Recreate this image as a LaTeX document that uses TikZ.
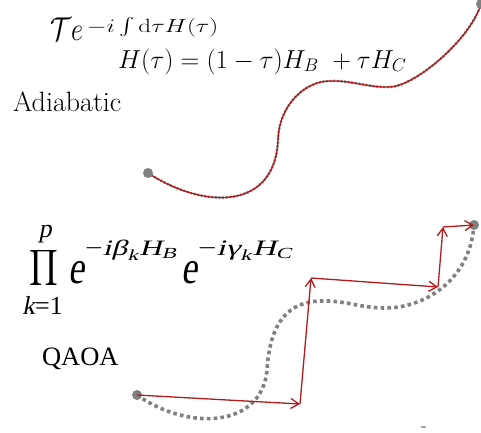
\RequirePackage{fix-cm}
\documentclass[tikz,border=0pt]{standalone}
\usepackage{amsmath}
\usepackage{fontspec}
\usepackage{graphicx}
\usetikzlibrary{arrows.meta}
\newfontfamily\tnr{Liberation Serif}
\newfontfamily\tnri{Liberation Serif}[FakeSlant=0.2]
\newcommand\ti[1]{\text{\tnri #1}}
\newcommand\tr[1]{\text{\tnr #1}}
\definecolor{pathred}{RGB}{178,26,30}
\definecolor{dotgray}{RGB}{128,128,128}
\tikzset{
  lbl/.style={anchor=base west, inner sep=0pt, outer sep=0pt},
  enddot/.style={circle, fill=dotgray, draw=none, minimum size=10pt, inner sep=0pt},
  gdash/.style={draw=dotgray, line width=2.4pt, dash pattern=on 2pt off 1.6pt},
  redcurve/.style={draw=pathred, line width=1.3pt},
  gdots/.style={draw=dotgray, line width=3.6pt, dash pattern=on 3.6pt off 3.2pt},
  redarrow/.style={draw=pathred, line width=1.3pt, -{Straight Barb[length=8pt,width=10pt,line width=1.3pt]}},
}
\begin{document}
\begin{tikzpicture}[x=1pt,y=-1pt]
\useasboundingbox (0,0) rectangle (481,432);
% ---------- adiabatic ----------
\node[lbl, font=\fontsize{33}{40}\selectfont] (te) at (50,40) {\scalebox{0.8}[1]{$\mathcal{T}e$}};
\node[lbl, font=\fontsize{19}{24}\selectfont] (tex) at (87,32) {\scalebox{1.32}[1]{$-i\int\mathrm{d}\tau H(\tau)$}};
\node[lbl, font=\fontsize{26}{30}\selectfont] (ham) at (118,68) {$H(\tau) = (1-\tau)H_B\ + \tau H_C$};
\node[lbl, font=\fontsize{28}{32}\selectfont] (adi) at (13,111) {Adiabatic};

\coordinate (a1) at (278,140);
\coordinate (a2) at (330,81);
\coordinate (a3) at (390,87);
\path (148,173) coordinate (a0);
\path (481,4) coordinate (a4);
\path[gdash] (a0) .. controls (205,210) and (275,210) .. (a1)
  .. controls (279,105) and (305,81) .. (a2)
  .. controls (350,80) and (370,88) .. (a3)
  .. controls (415,86) and (470,40) .. (a4);
\path[redcurve] (a0) .. controls (205,210) and (275,210) .. (a1)
  .. controls (279,105) and (305,81) .. (a2)
  .. controls (350,80) and (370,88) .. (a3)
  .. controls (415,86) and (470,40) .. (a4);
\node[enddot] (s0) at (a0) {};
\node[enddot] (s1) at (a4) {};

% ---------- QAOA ----------
\node[inner sep=0pt] (prod) at (44,268) {\fontsize{10}{12}\selectfont\scalebox{2.25}[2.5]{$\displaystyle\prod$}};
\node[anchor=base, inner sep=0pt, font=\fontsize{26}{30}\tnri] (pp) at (45,237) {p};
\node[anchor=base, inner sep=0pt, font=\fontsize{26}{30}\tnr] (kk) at (42.5,314) {{\tnri k}=1};
\node[lbl] (e1) at (68,283) {\scalebox{1}[1.3]{\fontsize{36}{40}\tnri e}};
\node[lbl, font=\fontsize{22}{26}\selectfont] (x1) at (85,255) {\resizebox{92pt}{\height}{$\tr{−}\ti{iβ}_{\ti{k}}\ti{H}_{\ti{B}}$}};
\node[lbl] (e2) at (181,283) {\scalebox{1}[1.3]{\fontsize{36}{40}\tnri e}};
\node[lbl, font=\fontsize{22}{26}\selectfont] (x2) at (198,255) {\resizebox{94pt}{\height}{$\tr{−}\ti{iγ}_{\ti{k}}\ti{H}_{\ti{C}}$}};
\node[lbl, font=\fontsize{26.5}{30}\tnr] (qaoa) at (42,365) {QAOA};

\coordinate (b0) at (137,395);
\coordinate (b1) at (267,370);
\coordinate (b2) at (320,301);
\coordinate (b3) at (385,308);
\coordinate (b4) at (474,225);
\path[gdots] (b0) .. controls (190,432) and (262,427) .. (b1)
  .. controls (270,320) and (290,302) .. (b2)
  .. controls (345,300) and (360,308) .. (b3)
  .. controls (425,308) and (470,280) .. (b4);
\node[enddot] (q0) at (b0) {};
\node[enddot] (q5) at (b4) {};
\coordinate (q1) at (300,404);
\coordinate (q2) at (311,278);
\coordinate (q3) at (438,287);
\coordinate (q4) at (443,227);
\draw[redarrow] (q0.center) -- (q1);
\draw[redarrow] (q1) -- (q2);
\draw[redarrow] (q2) -- (q3);
\draw[redarrow] (q3) -- (q4);
\draw[redarrow] (q4) -- (q5.center);
\draw[dotgray!70, line width=1.2pt] (421,427) -- (426,427);
\end{tikzpicture}
\end{document}
